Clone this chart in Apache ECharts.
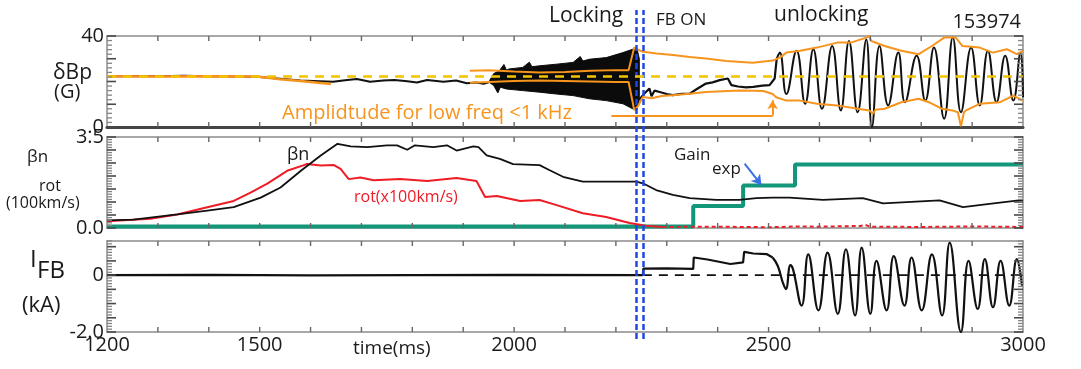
<!DOCTYPE html>
<html><head><meta charset="utf-8">
<script src="https://cdn.jsdelivr.net/npm/echarts@6/dist/echarts.min.js"></script>
<style>html,body{margin:0;padding:0;background:#fff}#c{width:1081px;height:369px}</style>
</head><body><div id="c"></div>
<script>
// ---------- data ----------
const xTickLabels = [1200, 1500, 2000, 2500, 3000];
const lockTimes = [2240, 2253];
const dBpBaseline = 22.2;

// panel 1: dBp (G)
const dBpEarly = [[1200,22.2],[1250,22.4],[1300,22.3],[1350,22.5],[1400,22.3],[1450,22.2],[1495,22.1],[1540,21.2],[1580,20.4],[1644,19.9],[1668,20.6],[1691,21.1],[1717,19.9],[1743,20.4],[1765,20.7],[1790,20.1],[1809,19.6],[1829,20.7],[1861,19.9],[1886,20.4],[1907,19.2],[1926,19.6],[1940,19.0],[1952,19.8]];
const dBpBandUpper = [[1952,20.5],[1960,23.5],[1971,24.7],[1980,27.5],[1985,25.0],[1990,25.5],[2017,26.2],[2030,28.5],[2035,26.5],[2050,26.9],[2083,27.6],[2116,28.4],[2130,31.0],[2135,29.0],[2148,29.8],[2181,30.5],[2214,32.7],[2233,34.2],[2241,34.9],[2246,30.0]];
const dBpBandLower = [[1952,19.5],[1960,18.2],[1968,15.0],[1973,17.5],[1985,16.7],[2017,16.0],[2050,15.3],[2083,14.5],[2116,13.8],[2148,12.4],[2181,11.6],[2214,10.2],[2233,8.0],[2241,7.3],[2246,12.0]];
const dBpFB = [[2246,12.0],[2256,14.7],[2266,16.9],[2270,13.5],[2276,16.0],[2286,15.4],[2300,14.5],[2312,14.0],[2330,14.6],[2345,14.7],[2360,16.8],[2377,19.1],[2390,19.6],[2404,20.6],[2420,21.3],[2427,18.4],[2440,17.8],[2456,17.4],[2470,17.6],[2488,18.2],[2502,18.4],[2512,21.3],[2516,30.0]];
const dBpOsc = [[2516,30.0],[2522,32.7],[2535,14.5],[2555,33.5],[2572,10.2],[2588,34.2],[2605,8.0],[2625,35.6],[2642,7.3],[2658,37.8],[2675,6.5],[2692,38.5],[2703,0.0],[2718,35.6],[2735,9.5],[2755,32.7],[2768,10.9],[2791,31.3],[2808,11.6],[2825,34.9],[2845,3.6],[2862,39.3],[2878,6.5],[2898,34.9],[2915,9.5],[2931,33.5],[2948,10.9],[2965,31.3],[2981,11.6],[2995,32.7],[3000,13.1]];
const ampEarly = [[1200,22.3],[1300,22.2],[1400,22.3],[1495,22.2],[1540,21.0],[1580,20.2],[1640,18.9]];
const ampUpper = [[1913,24.7],[1950,24.9],[2000,24.4],[2050,24.0],[2100,24.2],[2150,24.7],[2200,25.0],[2225,25.0],[2236,34.9],[2243,34.0],[2253,33.1],[2280,32.3],[2312,31.6],[2345,30.8],[2377,30.1],[2417,29.0],[2469,28.2],[2508,29.2],[2522,30.5],[2535,32.7],[2562,33.5],[2595,34.9],[2635,37.1],[2662,37.1],[2692,39.3],[2698,40.0],[2702,37.8],[2728,35.6],[2761,33.5],[2795,32.0],[2821,35.6],[2845,39.3],[2868,39.3],[2881,35.6],[2915,34.9],[2941,32.7],[2968,34.2],[2988,32.0],[3000,33.5]];
const ampLower = [[1913,19.5],[1950,19.8],[2000,20.2],[2050,20.4],[2100,20.2],[2150,20.0],[2200,19.8],[2225,19.8],[2236,7.5],[2243,9.0],[2253,13.2],[2270,12.6],[2290,13.6],[2312,14.0],[2345,14.6],[2377,15.4],[2443,16.0],[2490,15.8],[2508,14.5],[2515,13.1],[2535,11.6],[2562,11.6],[2595,10.2],[2635,9.5],[2675,8.0],[2698,7.3],[2705,5.8],[2710,7.6],[2728,8.0],[2761,10.9],[2795,12.4],[2815,10.9],[2841,8.0],[2861,7.3],[2872,6.5],[2878,0.3],[2884,6.5],[2888,7.3],[2915,10.2],[2955,10.9],[2981,13.8],[3000,11.6]];
const ampArrowPath = [[2191,5.1],[2508,5.1],[2508,11.8]];

// panel 2: beta_n, rotation, gain
const betaN = [[1200,0.29],[1252,0.32],[1338,0.52],[1397,0.67],[1449,0.80],[1502,1.17],[1541,1.56],[1581,2.20],[1620,2.79],[1653,3.24],[1679,3.14],[1712,3.11],[1750,3.18],[1770,3.18],[1790,3.01],[1805,3.18],[1841,3.11],[1868,3.18],[1887,2.98],[1920,3.14],[1930,3.11],[1946,2.79],[1972,2.66],[1998,2.46],[2050,2.42],[2069,2.23],[2096,1.97],[2135,1.78],[2181,1.78],[2240,1.78],[2253,1.72],[2279,1.46],[2312,1.27],[2345,1.15],[2397,1.08],[2443,1.08],[2476,1.15],[2508,1.17],[2541,1.17],[2607,1.08],[2685,1.15],[2725,0.95],[2836,1.06],[2882,0.80],[2934,0.93],[3000,1.08]];
const rot = [[1200,0.26],[1285,0.36],[1338,0.52],[1397,0.80],[1449,1.04],[1482,1.36],[1515,1.71],[1554,2.20],[1587,2.42],[1593,2.46],[1620,2.40],[1646,2.42],[1659,2.27],[1675,1.88],[1698,1.94],[1724,1.84],[1776,1.88],[1829,1.81],[1887,1.92],[1926,1.81],[1943,1.19],[1966,1.23],[2012,1.04],[2050,1.08],[2082,0.89],[2135,0.57],[2181,0.42],[2227,0.19],[2259,0.09],[2292,0.04]];
const rotLate = [[2292,0.04],[2400,0.05],[2500,0.03],[2560,0.06],[2600,0.05],[2680,0.08],[2690,0.12],[2700,0.05],[2800,0.04],[2900,0.06],[3000,0.04]];
const gainExp = [[1200,0.06],[2352,0.06],[2352,0.85],[2450,0.85],[2450,1.63],[2552,1.63],[2552,2.44],[3000,2.44]];
const gainArrow = [[2453,2.48],[2486,1.65]];

// panel 3: I_FB (kA)
const ifbEarly = [[1200,0.0],[1400,0.01],[1600,-0.01],[1800,0.0],[2000,0.01],[2253,0.0]];
const ifbSteps = [[2253,0.0],[2254,0.23],[2300,0.24],[2352,0.22],[2353,0.62],[2380,0.55],[2425,0.39],[2450,0.45],[2452,0.82],[2470,0.76],[2496,0.74],[2508,0.62]];
const ifbOsc = [[2508,0.62],[2518,0.33],[2528,-0.26],[2534,-0.49],[2543,0.35],[2548,0.21],[2565,-1.07],[2578,0.73],[2598,-1.24],[2616,0.79],[2636,-1.36],[2652,0.91],[2670,-1.42],[2683,0.97],[2700,-1.36],[2712,0.50],[2732,-1.24],[2746,0.67],[2767,-1.07],[2781,0.62],[2801,-1.24],[2821,0.73],[2841,-1.42],[2856,1.14],[2878,-2.0],[2893,0.50],[2911,-1.19],[2925,0.56],[2941,-1.13],[2956,0.50],[2973,-1.07],[2988,0.56],[2998,-0.37]];
const ifbZero = [[2253,0],[3000,0]];

// ---------- chart ----------
const FONT = '"Open Sans", "Noto Sans", sans-serif';
const TXT = '#1a1a1a';
const GRID_L = 107, GRID_R = 58;
const X_MIN = 1200, X_MAX = 3000, X_STEP = 100;
const chart = echarts.init(document.getElementById('c'));

function xAxisDef(gi, pos, labels){
  return {
    type:'value', gridIndex:gi, position:pos, min:X_MIN, max:X_MAX, interval:X_STEP,
    axisLine:{show:true, onZero:false, lineStyle:{color: (gi===0 && pos==='bottom') ? '#444' : '#8c8c8c', width:(gi===0 && pos==='bottom') ? 3 : 1.5}},
    axisTick:{show:false},
    axisLabel:{show:labels, interval:0, margin:3, fontSize:20, color:TXT, fontFamily:FONT,
      formatter:v => xTickLabels.indexOf(Math.round(v))>=0 ? String(Math.round(v)) : ''},
    splitLine:{show:false}
  };
}
function yAxisDef(gi, pos, min, max, interval, labelFn){
  return {
    type:'value', gridIndex:gi, position:pos, min:min, max:max, interval:interval,
    axisLine:{show:true, onZero:false, lineStyle:{color:'#8c8c8c', width:1.5}},
    axisTick:{show:false}, minorTick:{show:false},
    axisLabel:{show:!!labelFn, margin:3, fontSize:20, color:TXT, fontFamily:FONT,
      showMinLabel:true, showMaxLabel:true, formatter: labelFn || (()=> '')},
    splitLine:{show:false}, minorSplitLine:{show:false}
  };
}
const near = (a,b)=>Math.abs(a-b)<1e-6;

// tick marks: one custom item per tick value, placed through the axis scales
function yTickValues(ymin, ymax, step, nMinor){
  const out = []; const n = Math.round((ymax-ymin)/step + 1e-6);
  for(let i=0;i<=n;i++) out.push([X_MIN, ymin + i*step, (i % nMinor)===0 ? 1 : 0]);
  return out;
}
function yTickSeries(xi, yi, ymin, ymax, step, nMinor){
  return {type:'custom', xAxisIndex:xi, yAxisIndex:yi, data:yTickValues(ymin,ymax,step,nMinor),
    encode:{x:0,y:1}, silent:true, z:20, clip:false,
    renderItem:(params, api)=>{
      const v = api.value(1), major = api.value(2) === 1;
      const pl = api.coord([X_MIN, v]), pr = api.coord([X_MAX, v]);
      const L = major ? 9 : 5, col = major ? '#4a4a4a' : '#858585', w = major ? 1.6 : 1.3;
      return {type:'group', children:[
        {type:'line', shape:{x1:pl[0], y1:pl[1], x2:pl[0]+L, y2:pl[1]}, style:{stroke:col, lineWidth:w}},
        {type:'line', shape:{x1:pr[0], y1:pr[1], x2:pr[0]-L, y2:pr[1]}, style:{stroke:col, lineWidth:w}}
      ]};
    }};
}
function xTickSeries(xi, yi, ymin, ymax){
  const vals = []; for(let t=X_MIN+X_STEP;t<X_MAX;t+=X_STEP) vals.push([t, ymin]);
  return {type:'custom', xAxisIndex:xi, yAxisIndex:yi, data:vals, encode:{x:0,y:1}, silent:true, z:20, clip:false,
    renderItem:(params, api)=>{
      const t = api.value(0);
      const pt = api.coord([t, ymax]), pb = api.coord([t, ymin]);
      return {type:'group', children:[
        {type:'line', shape:{x1:pt[0], y1:pt[1], x2:pt[0], y2:pt[1]+5}, style:{stroke:'#666', lineWidth:1.4}},
        {type:'line', shape:{x1:pb[0], y1:pb[1], x2:pb[0], y2:pb[1]-5}, style:{stroke:'#666', lineWidth:1.4}}
      ]};
    }};
}

const grids = [
  {left:GRID_L, right:GRID_R, top:36, height:91},
  {left:GRID_L, right:GRID_R, top:137, height:91},
  {left:GRID_L, right:GRID_R, top:241, height:91},
  {left:GRID_L, right:GRID_R, top:10, height:329}
];
const xAxes = [
  xAxisDef(0,'bottom',false), xAxisDef(1,'bottom',false), xAxisDef(2,'bottom',true),
  xAxisDef(0,'top',false), xAxisDef(1,'top',false), xAxisDef(2,'top',false),
  {type:'value', gridIndex:3, min:X_MIN, max:X_MAX, show:false}
];
const yAxes = [
  yAxisDef(0,'left',0,40,10, v => near(v,40)?'40':(near(v,0)?'.0':'')),
  yAxisDef(1,'left',0,3.5,0.5, v => near(v,3.5)?'3.5':(near(v,0)?'0.0':'')),
  yAxisDef(2,'left',-2,1.2,0.5, v => near(v,0)?'0':(near(v,-2)?'-2.0':'')),
  yAxisDef(0,'right',0,40,10,null),
  yAxisDef(1,'right',0,3.5,0.5,null),
  yAxisDef(2,'right',-2,1.2,0.5,null),
  {type:'value', gridIndex:3, min:0, max:1, show:false}
];

function line(data, xi, yi, color, width, extra){
  return Object.assign({type:'line', data:data, xAxisIndex:xi, yAxisIndex:yi, symbol:'none',
    lineStyle:{color:color, width:width}, itemStyle:{color:color}, silent:true}, extra||{});
}

const ORANGE = '#f7941d', RED = '#ee1c25', GREEN = '#13977a', BLUE = '#1f48e0';

const series = [
  yTickSeries(0,0,0,40,2,5),
  yTickSeries(1,1,0,3.5,0.1,5),
  yTickSeries(2,2,-2,1.2,0.1,5),
  xTickSeries(0,0,0,40),
  xTickSeries(1,1,0,3.5),
  xTickSeries(2,2,-2,1.2),
  // panel 1
  {type:'custom', xAxisIndex:0, yAxisIndex:0, data:[[2100,22]], encode:{x:0,y:1}, silent:true, z:2,
   renderItem:(params, api)=>{
     const pts = dBpBandUpper.map(p=>api.coord(p)).concat(dBpBandLower.slice().reverse().map(p=>api.coord(p)));
     return {type:'polygon', shape:{points:pts}, style:{fill:'#0b0b0b', stroke:'#0b0b0b', lineWidth:1}};
   }},
  line(dBpEarly,0,0,'#111',2,{z:3}),
  line(dBpFB,0,0,'#111',2.2,{z:3}),
  line(dBpOsc,0,0,'#111',2,{z:3, smooth:0.45}),
  line(ampEarly,0,0,ORANGE,2.5,{z:4}),
  line(ampUpper,0,0,ORANGE,2,{z:4}),
  line(ampLower,0,0,ORANGE,2,{z:4, markLine:{silent:true, symbol:'none', label:{show:false},
      lineStyle:{color:ORANGE, width:2, type:'solid'},
      data:[
        [{coord:ampArrowPath[0], symbol:'none'},{coord:ampArrowPath[1], symbol:'none'}],
        [{coord:ampArrowPath[1], symbol:'none'},{coord:ampArrowPath[2], symbol:'arrow', symbolSize:[8,9]}]
      ]}}),
  line([[X_MIN,dBpBaseline],[X_MAX,dBpBaseline]],0,0,'#f5c400',2.5,{z:5, lineStyle:{color:'#f5c400', width:2.5, type:[9,7]}}),
  // panel 2
  line(gainExp,1,1,GREEN,4,{z:2}),
  line(rot,1,1,RED,2,{z:3}),
  line(rotLate,1,1,RED,2,{z:3, lineStyle:{color:RED, width:2, type:[4,3]}}),
  line(betaN,1,1,'#111',1.8,{z:4, markLine:{silent:true, symbol:'none', label:{show:false},
      lineStyle:{color:'#3b6fe6', width:2, type:'solid'},
      data:[[{coord:gainArrow[0], symbol:'none'},{coord:gainArrow[1], symbol:'arrow', symbolSize:[9,10]}]]}}),
  // panel 3
  line(ifbZero,2,2,'#111',1.8,{z:2, lineStyle:{color:'#111', width:1.8, type:[9,7]}}),
  line(ifbEarly,2,2,'#111',2.2,{z:3}),
  line(ifbSteps,2,2,'#111',2.2,{z:3}),
  line(ifbOsc,2,2,'#111',2.2,{z:3, smooth:0.45}),
  // overlay: lock / FB-on markers
  {type:'line', xAxisIndex:6, yAxisIndex:6, data:[[lockTimes[0],0.5]], symbol:'none', silent:true, z:10,
   lineStyle:{opacity:0},
   markLine:{silent:true, symbol:'none', label:{show:false},
     lineStyle:{color:BLUE, width:2.5, type:[6,3]},
     data: lockTimes.map(t=>({xAxis:t}))}}
];

function txt(text, x, y, size, color, align){
  return {type:'text', x:x, y:y, silent:true, z:100,
    style:{text:text, fill:color||TXT, font:size+'px '+FONT, align:align||'left', verticalAlign:'middle'}};
}
const graphics = [
  txt('Locking', 549, 16, 21),
  txt('FB ON', 656, 20, 17),
  txt('unlocking', 774, 15, 21),
  txt('153974', 1021, 22, 20, TXT, 'right'),
  txt('δBp', 53, 73, 21),
  txt('(G)', 54, 92, 20),
  txt('Amplidtude for low freq <1 kHz', 282, 113, 20, ORANGE),
  txt('βn', 27, 157, 17),
  txt('rot', 39, 186, 16),
  txt('(100km/s)', 6, 203, 16),
  txt('βn', 287, 155, 18),
  txt('rot(x100km/s)', 354, 197, 16, RED),
  txt('Gain', 674, 155, 17),
  txt('exp', 712, 169, 17),
  txt('I', 30, 260, 24),
  txt('FB', 37, 271, 24),
  txt('(kA)', 22, 306, 22),
  txt('time(ms)', 353, 349, 19)
];

chart.setOption({
  animation:false,
  backgroundColor:'#fff',
  grid:grids, xAxis:xAxes, yAxis:yAxes, series:series, graphic:graphics
});
</script></body></html>
